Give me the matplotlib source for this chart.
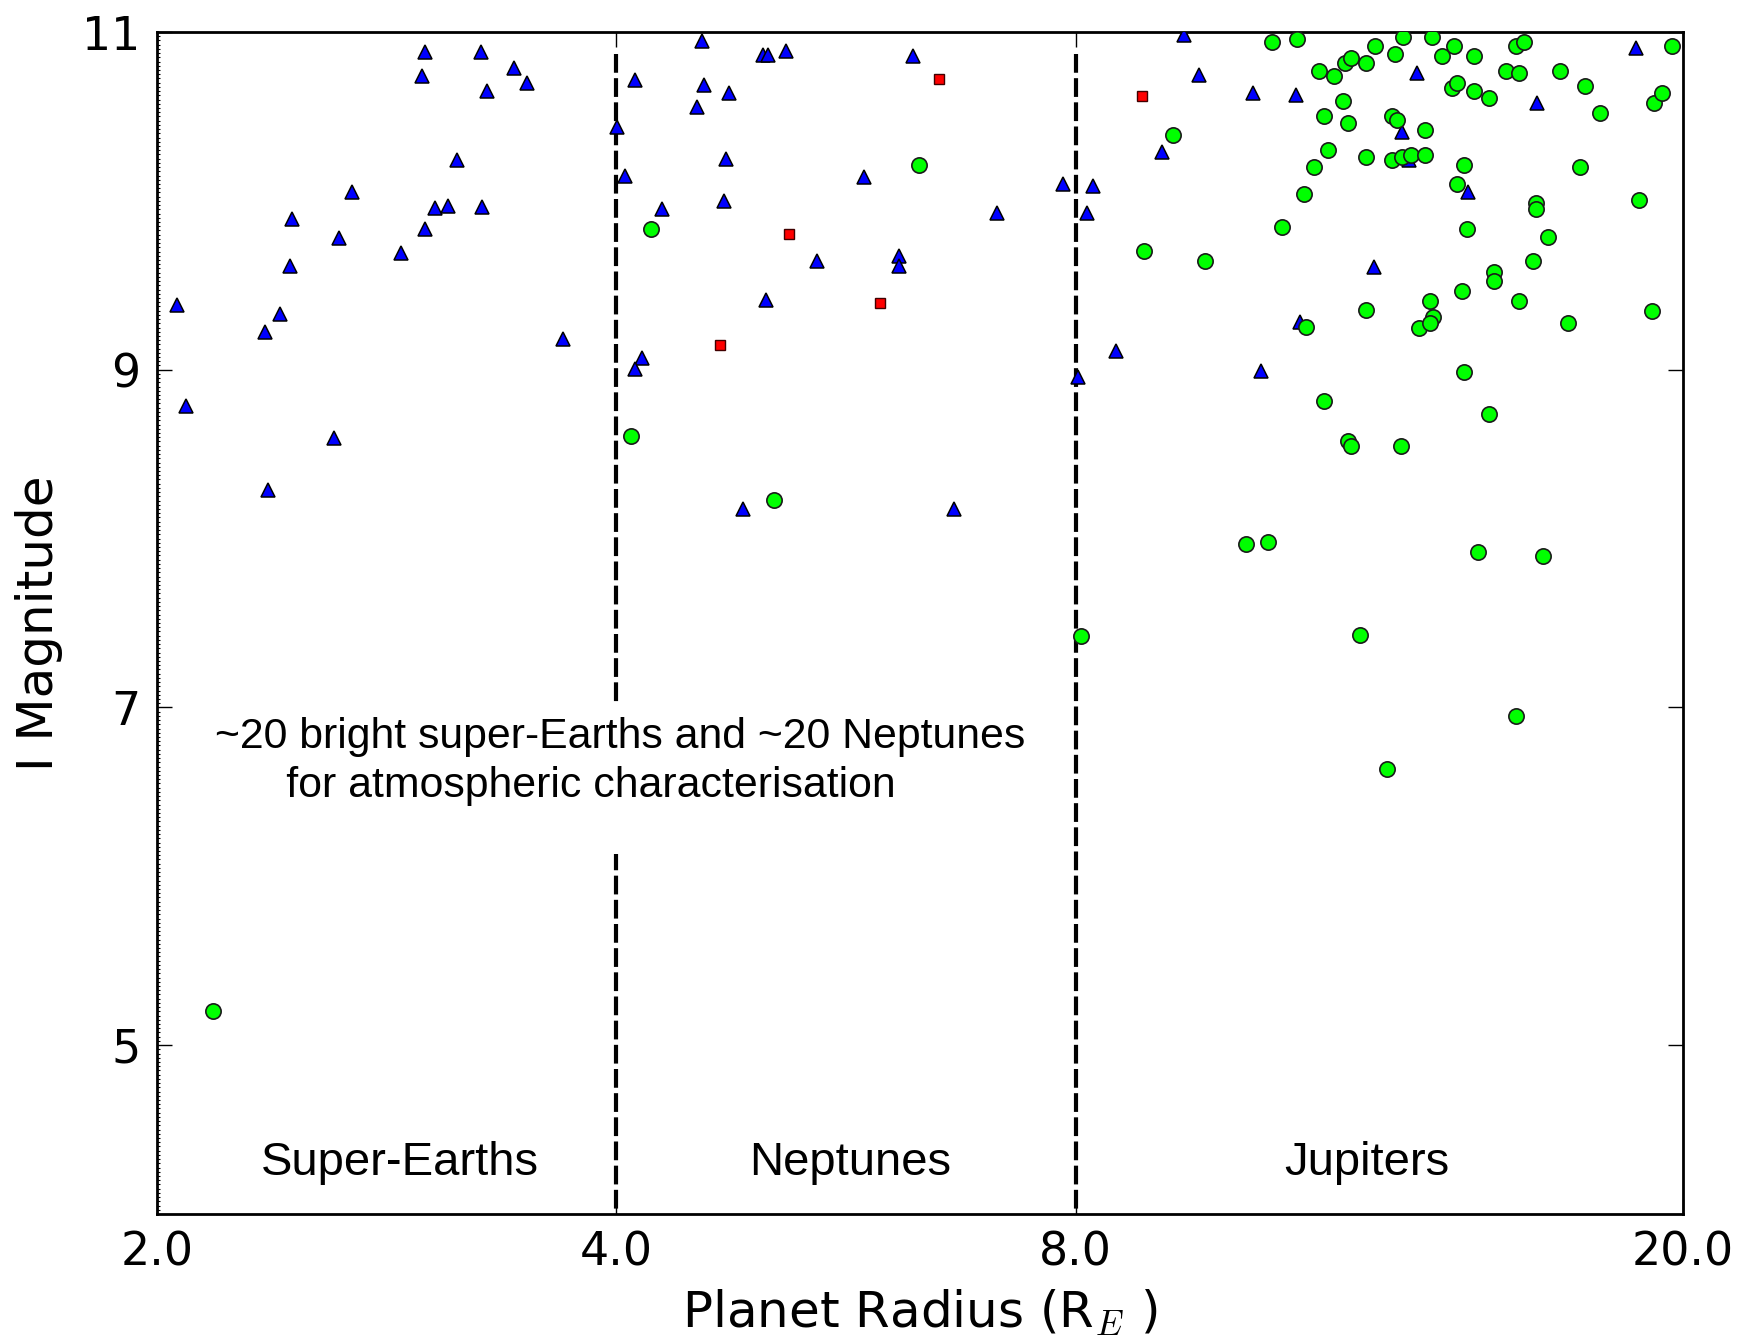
import matplotlib
matplotlib.use("Agg")
import matplotlib.pyplot as plt
from matplotlib.path import Path
from matplotlib.ticker import FixedLocator, FixedFormatter, NullLocator, MultipleLocator

plt.rcParams['mathtext.fontset'] = 'cm'

# ---------------- data ----------------
tri_x = [2.061, 2.089, 2.354, 2.364, 2.408, 2.445, 2.453, 2.612, 2.632, 2.683,
         2.889, 2.985, 2.995, 2.998, 3.044, 3.101, 3.146, 3.262, 3.264, 3.292,
         3.430, 3.494, 3.692, 4.005, 4.053, 4.114, 4.160, 4.114, 4.287, 4.516,
         4.550, 4.566, 4.705, 4.720, 4.741, 4.839, 4.993, 5.031, 5.011, 5.164,
         5.417, 5.813, 6.127, 6.127, 6.261, 6.655, 7.107, 7.851, 8.030, 8.134,
         8.214, 8.497, 9.116, 9.424, 9.640, 10.459, 10.580, 11.149, 11.222, 12.546,
         13.083, 13.227, 13.381, 14.466, 16.054, 18.622]
tri_y = [9.383, 8.785, 9.221, 8.290, 9.328, 9.616, 9.893, 8.598, 9.778, 10.055,
         9.689, 10.742, 10.883, 9.833, 9.956, 9.970, 10.242, 10.883, 9.966, 10.650,
         10.785, 10.696, 9.180, 10.436, 10.147, 10.716, 9.068, 9.004, 9.952, 10.554,
         10.949, 10.685, 9.999, 10.246, 10.640, 8.174, 10.864, 10.864, 9.413, 10.889,
         9.646, 10.143, 9.673, 9.614, 10.860, 8.174, 9.926, 10.100, 8.955, 9.926,
         10.088, 9.111, 10.292, 10.982, 10.745, 10.640, 8.994, 10.627, 9.284, 9.606,
         10.409, 10.242, 10.759, 10.055, 10.577, 10.903]

sq_x = [4.677, 5.190, 5.954, 6.512, 8.836]
sq_y = [9.146, 9.804, 9.397, 10.722, 10.621]

circ_x = [2.175, 4.089, 4.212, 5.072, 6.318, 8.058, 8.872, 9.269, 9.727, 10.345,
          10.698, 10.752, 10.916, 11.166, 11.288, 11.325, 11.460, 11.549, 11.634, 11.634,
          11.712, 11.811, 11.978, 12.011, 12.071, 12.071, 12.112, 12.112, 12.276, 12.390,
          12.390, 12.390, 12.568, 12.802, 12.899, 12.899, 12.953, 12.996, 13.062, 13.103,
          13.083, 13.260, 13.553, 13.553, 13.435, 13.653, 13.709, 13.653, 13.701, 13.897,
          14.109, 14.228, 14.164, 14.214, 14.324, 14.379, 14.379, 14.433, 14.591, 14.598,
          14.689, 14.924, 14.929, 15.038, 15.038, 15.313, 15.546, 15.616, 15.616, 15.551,
          15.735, 15.957, 16.014, 16.014, 16.190, 16.323, 16.622, 16.806, 17.122, 17.261,
          17.648, 18.724, 19.079, 19.146, 19.369, 19.663]
circ_y = [5.204, 8.608, 9.833, 8.227, 10.213, 7.424, 9.703, 10.390, 9.646, 7.967,
          7.982, 10.943, 9.847, 10.956, 10.039, 9.251, 10.199, 10.769, 10.505, 8.815,
          10.301, 10.739, 10.593, 10.814, 10.463, 8.580, 8.548, 10.844, 7.427, 10.814,
          10.258, 9.353, 10.917, 6.637, 10.505, 10.242, 10.870, 10.479, 8.548, 10.972,
          10.261, 10.272, 10.419, 10.272, 9.245, 9.409, 9.314, 9.278, 10.972, 10.858,
          10.666, 10.696, 10.917, 10.098, 9.468, 10.213, 8.988, 9.833, 10.858, 10.652,
          7.922, 10.607, 8.736, 9.577, 9.527, 10.769, 10.917, 10.755, 9.409, 6.947,
          10.943, 9.646, 9.985, 9.950, 7.895, 9.788, 10.769, 9.278, 10.199, 10.682,
          10.518, 10.005, 9.350, 10.577, 10.640, 10.917]

boundaries = [4.0, 8.0]
boundary_top = 10.87
xticks = [2.0, 4.0, 8.0, 20.0]
xticklabels = ["2.0", "4.0", "8.0", "20.0"]
yticks = [5, 7, 9, 11]
regions = ["Super-Earths", "Neptunes", "Jupiters"]
region_x = [2.885, 5.69, 12.42]
region_y = 4.30
note = "~20 bright super-Earths and ~20 Neptunes\n      for atmospheric characterisation"


def note_box(x0, y0, width, height, mutation_size):
    """White box: small pad on top/sides, larger pad below the text."""
    pad = 0.3 * mutation_size
    pad_bottom = 1.13 * mutation_size
    x1, y1 = x0 + width + pad, y0 + height + pad
    xa, ya = x0 - pad, y0 - pad_bottom
    return Path([(xa, ya), (x1, ya), (x1, y1), (xa, y1), (xa, ya)], closed=True)


# ---------------- figure ----------------
fig = plt.figure(figsize=(17.43, 13.41), dpi=100)
ax = fig.add_axes([157/1743, 1 - 1214/1341, 1526/1743, 1182/1341])

ax.set_xscale('log')
ax.set_xlim(2.0, 20.0)
ax.set_ylim(4, 11)

for b in boundaries:
    ax.plot([b, b], [boundary_top, 4], color='black', lw=3.0,
            linestyle=(0, (4.5, 1.3)), zorder=2)

ax.plot(tri_x, tri_y, linestyle='none', marker='^', markersize=10,
        markerfacecolor='#0000ff', markeredgecolor='black', markeredgewidth=1.1, zorder=3)
ax.plot(sq_x, sq_y, linestyle='none', marker='s', markersize=7,
        markerfacecolor='#ff0000', markeredgecolor='#400000', markeredgewidth=1.0, zorder=4)
ax.plot(circ_x, circ_y, linestyle='none', marker='o', markersize=11,
        markerfacecolor='#00ff00', markeredgecolor='#1a1a1a', markeredgewidth=1.2, zorder=5)

# annotation with white box
ax.text(0.0377, 0.4204, note, transform=ax.transAxes, ha='left', va='top',
        family='Liberation Sans', fontsize=30.75, linespacing=1.29,
        bbox=dict(boxstyle=note_box, facecolor='white', edgecolor='none'),
        zorder=6)

for name, rx in zip(regions, region_x):
    ax.text(rx, region_y, name, ha='center', va='center',
            family='Liberation Sans', fontsize=34, zorder=6)

# ticks
ax.xaxis.set_major_locator(FixedLocator(xticks))
ax.xaxis.set_major_formatter(FixedFormatter(xticklabels))
ax.xaxis.set_minor_locator(NullLocator())
ax.yaxis.set_major_locator(FixedLocator(yticks))
ax.yaxis.set_minor_locator(MultipleLocator(0.025))

ax.tick_params(which='major', direction='in', length=11, width=1.0,
               top=True, right=True, labelsize=33, pad=12)
ax.tick_params(axis='y', which='minor', direction='in', length=2, width=0.8,
               left=True, right=False)
ax.tick_params(axis='x', which='minor', bottom=False, top=False)

for s in ax.spines.values():
    s.set_linewidth(2.0)

ax.set_xlabel("Planet Radius (R$_E$ )", fontsize=36, labelpad=8)
ax.set_ylabel("I Magnitude", fontsize=36, labelpad=14)

fig.savefig("out.png", dpi=100)
